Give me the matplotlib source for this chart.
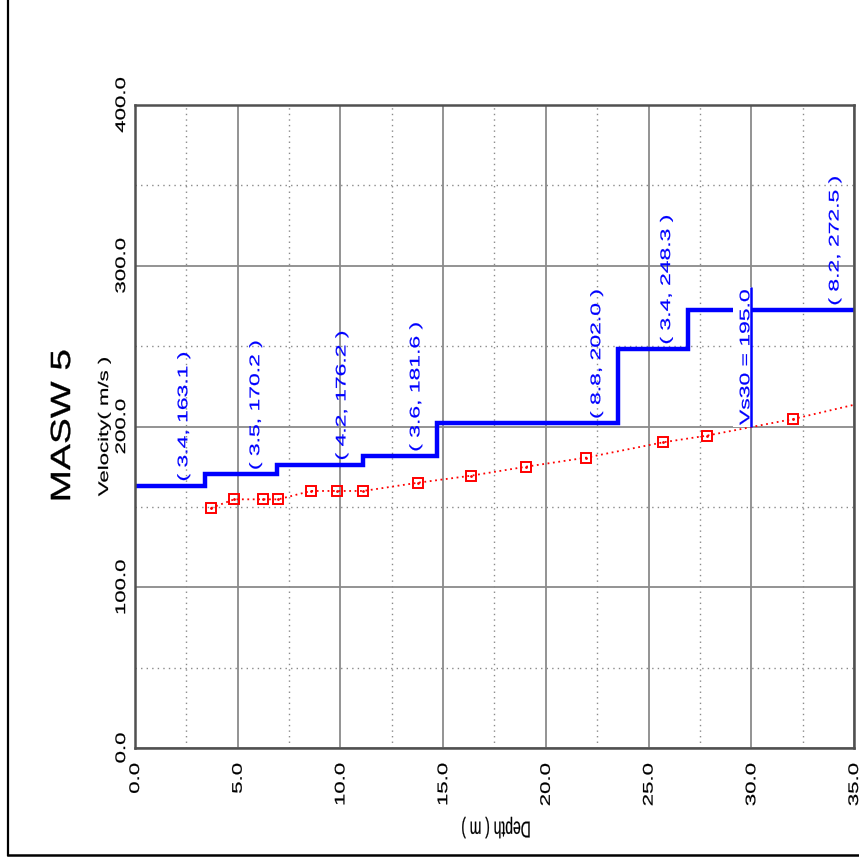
import numpy as np
import matplotlib
matplotlib.use("Agg")
import matplotlib.pyplot as plt
from matplotlib import patheffects
from matplotlib.lines import Line2D
from matplotlib.patches import Rectangle
from matplotlib.ticker import MultipleLocator
from matplotlib.transforms import Affine2D

plt.rcParams['font.family'] = ['Liberation Sans', 'DejaVu Sans']

# Slojevi profila: debljina (m) i brzina (m/s)
layer_thickness = [3.4, 3.5, 4.2, 3.6, 8.8, 3.4, 8.2]
layer_velocity = [163.1, 170.2, 176.2, 181.6, 202.0, 248.3, 272.5]

# Crvene tocke (dubina, brzina)
point_depth = [3.7, 4.83, 6.22, 6.98, 8.57, 9.85, 11.12, 13.76, 16.36, 19.04, 21.95, 25.72, 27.83, 32.05]
point_velocity = [149.3, 154.7, 154.7, 154.7, 159.9, 159.9, 159.9, 165.0, 169.4, 175.0, 180.6, 190.2, 194.3, 204.7]
curve_end_depth = 35.0
curve_end_velocity = 213.5

# Vs30 oznaka
vs30_depth = 30.0
vs30_value = 195.0
vs30_marker_top = 287.0

x_ticks = [0, 5, 10, 15, 20, 25, 30, 35]
y_ticks = [0, 100, 200, 300, 400]
title = "MASW 5"


class Stretch(patheffects.AbstractPathEffect):
    """Rasteze nacrtani tekst po vertikali slike (i malo ga podebljava)."""

    def __init__(self, factor, anchor="center", stroke=0.15):
        super().__init__()
        self.factor = factor
        self.anchor = anchor
        self.stroke = stroke

    def draw_path(self, renderer, gc, tpath, affine, rgbFace=None):
        ext = tpath.transformed(affine).get_extents()
        if self.anchor == "low":
            y0 = ext.y0
        elif self.anchor == "high":
            y0 = ext.y1
        else:
            y0 = (ext.y0 + ext.y1) / 2
        extra = Affine2D().translate(0, -y0).scale(1, self.factor).translate(0, y0)
        gc0 = renderer.new_gc()
        gc0.copy_properties(gc)
        if rgbFace is not None:
            gc0.set_foreground(rgbFace)
        gc0.set_linewidth(self.stroke)
        renderer.draw_path(gc0, tpath, affine + extra, rgbFace)
        gc0.restore()


BLUE = '#0000FF'
RED = '#FF0000'

fig = plt.figure(figsize=(8.59, 8.63), dpi=100)
ax = fig.add_axes([135 / 859, 115 / 863, 719 / 859, 643 / 863])

ax.set_xlim(0, 35)
ax.set_ylim(0, 400)

# mreza
ax.xaxis.set_major_locator(MultipleLocator(5))
ax.xaxis.set_minor_locator(MultipleLocator(2.5))
ax.yaxis.set_major_locator(MultipleLocator(100))
ax.yaxis.set_minor_locator(MultipleLocator(50))
ax.set_axisbelow(True)
ax.grid(which='major', color='#8a8a8a', lw=1.3, ls='-')
ax.grid(which='minor', color='#8a8a8a', lw=1.0, ls=(0, (1, 3)))

for sp in ax.spines.values():
    sp.set_color('#505050')
    sp.set_linewidth(1.8)

ax.set_xticks(x_ticks)
ax.set_xticklabels([f"{v:.1f}" for v in x_ticks], rotation=90, va='top', ha='center', fontsize=10)
ax.set_yticks(y_ticks)
ax.set_yticklabels([f"{v:.1f}" for v in y_ticks], rotation=90, va='center', ha='right', fontsize=10)
ax.tick_params(axis='x', which='both', length=0, pad=11)
ax.tick_params(axis='y', which='both', length=0, pad=5)
for lab in ax.get_xticklabels():
    lab.set_path_effects([Stretch(1.6, "high")])
for lab in ax.get_yticklabels():
    lab.set_path_effects([Stretch(1.6)])

# stepenasti profil
edges = np.concatenate([[0.0], np.cumsum(layer_thickness)])
ax.stairs(layer_velocity, edges, baseline=None, color=BLUE, lw=3.2, zorder=2)

for t, v, bottom in zip(layer_thickness, layer_velocity, edges[1:]):
    ax.annotate(f"( {t:.1f}, {v:.1f} )", xy=(bottom - 1.05, v), xytext=(0, 3.5),
                textcoords='offset points', rotation=90, ha='center', va='bottom',
                color=BLUE, fontsize=10, zorder=5,
                path_effects=[Stretch(1.65, "low")])

# crvena krivulja
curve_depth = point_depth + [curve_end_depth]
curve_velocity = point_velocity + [curve_end_velocity]
ax.plot(curve_depth, curve_velocity, color=RED, lw=1.3, ls=(0, (1, 2)), zorder=2)
ax.plot(point_depth, point_velocity, ls='none', marker='s', ms=7.6, mfc='none',
        mec=RED, mew=1.4, zorder=3)
ax.plot(point_depth, point_velocity, ls='none', marker='.', ms=2, color=RED, zorder=3)

# Vs30
vs30_curve = np.interp(vs30_depth, curve_depth, curve_velocity)
ax.add_patch(Rectangle((vs30_depth - 0.9, vs30_curve), 0.9, vs30_marker_top - vs30_curve,
                       facecolor='white', edgecolor='none', zorder=3))
ax.vlines(vs30_depth, vs30_curve, vs30_marker_top, color=BLUE, lw=1.8, zorder=4)
ax.annotate(f"Vs30 = {vs30_value:.1f}", xy=(vs30_depth, vs30_curve), xytext=(-4.3, 1.5),
            textcoords='offset points', rotation=90, ha='center', va='bottom',
            color=BLUE, fontsize=10, zorder=5, path_effects=[Stretch(1.65, "low")])

# natpisi osi
ax.set_ylabel("Velocity( m/s )", fontsize=10)
ax.yaxis.set_label_coords(-31 / 719, 0.5)
ax.yaxis.label.set_verticalalignment('center')
ax.yaxis.label.set_path_effects([Stretch(1.6)])

ax.set_xlabel("Depth ( m )", fontsize=10, rotation=180)
ax.xaxis.set_label_coords(0.502, -0.1244)
ax.xaxis.label.set_verticalalignment('center')
ax.xaxis.label.set_path_effects([Stretch(1.65)])

ax.text(-0.1001, 0.5015, title, transform=ax.transAxes, rotation=90, ha='center',
        va='center', fontsize=20, path_effects=[Stretch(1.4, stroke=0.25)])

# okvir slike
fig.add_artist(Line2D([8 / 859, 8 / 859], [1.0, 8 / 863], color='black', lw=1.6))
fig.add_artist(Line2D([8 / 859, 1.0], [8 / 863, 8 / 863], color='black', lw=1.8))

fig.savefig("out.png", dpi=100)
